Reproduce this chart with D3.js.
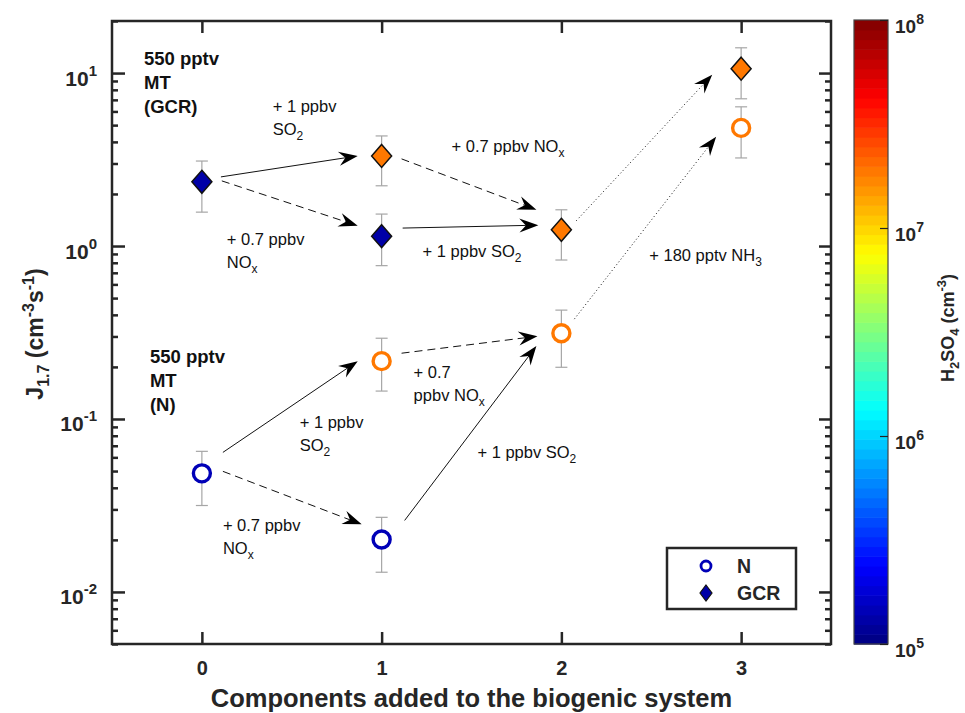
<!DOCTYPE html>
<html>
<head>
<meta charset="utf-8">
<script src="https://cdn.jsdelivr.net/npm/d3@7"></script>
<style>
  html, body { margin: 0; padding: 0; background: #fff; }
  svg { display: block; font-family: "Liberation Sans", Arial, Helvetica, sans-serif; }
</style>
</head>
<body>
<svg id="chart" width="965" height="713"></svg>
<script>
// ---- data -------------------------------------------------------------
// number of components added to the biogenic system for each run
const components = [0, 1, 1, 2, 3];

// J1.7 (cm^-3 s^-1), neutral (N) runs, with error-bar limits
const nRate = [0.0485, 0.216, 0.0201, 0.313, 4.82];
const nLow  = [0.0316, 0.145, 0.0130, 0.199, 3.23];
const nHigh = [0.065, 0.293, 0.027, 0.426, 6.38];

// J1.7 (cm^-3 s^-1), galactic cosmic ray (GCR) runs, with error-bar limits
const gcrRate = [2.35, 3.32, 1.14, 1.24, 10.6];
const gcrLow  = [1.57, 2.23, 0.77, 0.83, 7.1];
const gcrHigh = [3.1, 4.33, 1.53, 1.62, 14.0];

// H2SO4 concentration (cm^-3) for each run, used for marker colour
const nH2SO4   = [1.45e5, 1.85e7, 1.45e5, 1.85e7, 1.9e7];
const gcrH2SO4 = [1.3e5, 1.85e7, 1.3e5, 1.85e7, 1.9e7];

const xTickValues = [0, 1, 2, 3];
const yTickExponents = [-2, -1, 0, 1];
const cbTickExponents = [5, 6, 7, 8];

// arrows between runs (data coordinates: [components, J1.7])
const arrows = [
  { from: [0.106, 2.51],  to: [0.867, 3.32],  style: "solid" },
  { from: [0.111, 2.38],  to: [0.867, 1.31],  style: "dashed" },
  { from: [1.111, 3.19],  to: [1.861, 1.62],  style: "dashed" },
  { from: [1.117, 1.27],  to: [1.872, 1.32],  style: "solid" },
  { from: [2.083, 1.40],  to: [2.839, 9.77],  style: "dotted" },
  { from: [2.072, 0.378], to: [2.861, 4.28],  style: "dotted" },
  { from: [0.117, 0.0641],to: [0.867, 0.216], style: "solid" },
  { from: [0.117, 0.0498],to: [0.889, 0.0246],style: "dashed" },
  { from: [1.111, 0.240], to: [1.867, 0.301], style: "dashed" },
  { from: [1.128, 0.0259],to: [1.861, 0.264], style: "solid" }
];

// text notes, anchored at data coordinates ("_" marks a one-character subscript)
const notes = [
  { x: -0.322, y: 11.2,   bold: true, lines: ["550 pptv", "MT", "(GCR)"] },
  { x: 0.394,  y: 5.97,   lines: ["+ 1 ppbv", "SO_2"] },
  { x: 0.139,  y: 1.01,   lines: ["+ 0.7 ppbv", "NO_x"] },
  { x: 1.389,  y: 3.5,    lines: ["+ 0.7 ppbv NO_x"] },
  { x: 1.228,  y: 0.864,  lines: ["+ 1 ppbv SO_2"] },
  { x: 2.489,  y: 0.819,  lines: ["+ 180 pptv NH_3"] },
  { x: -0.289, y: 0.21,   bold: true, lines: ["550 pptv", "MT", "(N)"] },
  { x: 0.544,  y: 0.0883, lines: ["+ 1 ppbv", "SO_2"] },
  { x: 0.117,  y: 0.0224, lines: ["+ 0.7 ppbv", "NO_x"] },
  { x: 1.178,  y: 0.172,  lines: ["+ 0.7", "ppbv NO_x"] },
  { x: 1.533,  y: 0.0592, lines: ["+ 1 ppbv SO_2"] }
];

// ---- layout -----------------------------------------------------------
const plot = { left: 112, right: 831, top: 21, bottom: 644 };
const cbar = { left: 854, right: 888, top: 20, bottom: 644 };
const axisColor = "#262626";

const svg = d3.select("#chart");

const x = d3.scaleLinear().domain([-0.5, 3.5]).range([plot.left, plot.right]);
const y = d3.scaleLog().domain([0.005, 20]).range([plot.bottom, plot.top]);
const cScale = d3.scaleLog().domain([1e5, 1e8]).range([cbar.bottom, cbar.top]);

// MATLAB-style jet colormap with 64 levels
const NLEV = 64;
function jet(t) {
  const c = v => Math.max(0, Math.min(1, v));
  const r = c(1.5 - Math.abs(4 * t - 3));
  const g = c(1.5 - Math.abs(4 * t - 2));
  const b = c(1.5 - Math.abs(4 * t - 1));
  return d3.rgb(r * 255, g * 255, b * 255).formatHex();
}
const levelColor = i => jet((i + 0.5) / NLEV);
const cLog = d3.scaleLog().domain([1e5, 1e8]).range([0, 1]).clamp(true);
function colorOf(v) {
  const i = Math.min(NLEV - 1, Math.floor(cLog(v) * NLEV));
  return levelColor(i);
}

// ---- axes box & ticks ---------------------------------------------------
const majorY = yTickExponents.map(e => Math.pow(10, e));
const minorY = [];
for (let e = -3; e <= 1; e++) {
  for (let m = 2; m <= 9; m++) {
    const v = m * Math.pow(10, e);
    if (v >= 0.005 && v <= 20) minorY.push(v);
  }
}

function styleTicks(g) {
  g.select(".domain").remove();
  g.selectAll(".tick line").attr("stroke", axisColor).attr("stroke-width", 2.5);
}

// left axis (major + minor), ticks pointing inward
const leftMajor = svg.append("g").attr("transform", `translate(${plot.left},0)`)
  .call(d3.axisLeft(y).tickValues(majorY).tickSizeInner(-13).tickSizeOuter(0).tickFormat(() => ""))
  .call(styleTicks);
svg.append("g").attr("transform", `translate(${plot.left},0)`)
  .call(d3.axisLeft(y).tickValues(minorY).tickSizeInner(-6).tickSizeOuter(0).tickFormat(() => ""))
  .call(styleTicks);

// right axis mirror ticks
svg.append("g").attr("transform", `translate(${plot.right},0)`)
  .call(d3.axisRight(y).tickValues(majorY).tickSizeInner(-12).tickSizeOuter(0).tickFormat(() => ""))
  .call(styleTicks);
svg.append("g").attr("transform", `translate(${plot.right},0)`)
  .call(d3.axisRight(y).tickValues(minorY).tickSizeInner(-6).tickSizeOuter(0).tickFormat(() => ""))
  .call(styleTicks);

// top & bottom x ticks
svg.append("g").attr("transform", `translate(0,${plot.top})`)
  .call(d3.axisTop(x).tickValues(xTickValues).tickSizeInner(-12).tickSizeOuter(0).tickFormat(() => ""))
  .call(styleTicks);
const bottomAxis = svg.append("g").attr("transform", `translate(0,${plot.bottom})`)
  .call(d3.axisBottom(x).tickValues(xTickValues).tickSizeInner(-12).tickSizeOuter(0).tickFormat(d3.format("d")))
  .call(styleTicks);
bottomAxis.selectAll(".tick text")
  .attr("y", 31).attr("dy", null)
  .attr("fill", axisColor)
  .attr("font-family", "'Liberation Sans', Arial, sans-serif")
  .attr("font-size", 20).attr("font-weight", "bold");

// power-of-ten labels on the left axis
leftMajor.selectAll(".tick").each(function (d) {
  const t = d3.select(this).append("text")
    .attr("x", -15).attr("y", 12)
    .attr("text-anchor", "end")
    .attr("fill", axisColor)
    .attr("font-size", 21).attr("font-weight", "bold");
  t.append("tspan").text("10");
  t.append("tspan").attr("dy", -10).attr("font-size", 15).text(String(Math.round(Math.log10(d))));
});

// frame
svg.append("rect")
  .attr("x", plot.left).attr("y", plot.top)
  .attr("width", plot.right - plot.left).attr("height", plot.bottom - plot.top)
  .attr("fill", "none").attr("stroke", axisColor).attr("stroke-width", 2.5);

// axis titles
const yTitle = svg.append("text")
  .attr("transform", `translate(43,334) rotate(-90)`)
  .attr("text-anchor", "middle")
  .attr("fill", axisColor)
  .attr("font-size", 23).attr("font-weight", "bold");
yTitle.append("tspan").text("J");
yTitle.append("tspan").attr("dy", 6).attr("font-size", 16).text("1.7");
yTitle.append("tspan").attr("dy", -6).text(" (cm");
yTitle.append("tspan").attr("dy", -9).attr("font-size", 16).text("-3");
yTitle.append("tspan").attr("dy", 9).text("s");
yTitle.append("tspan").attr("dy", -9).attr("font-size", 16).text("-1");
yTitle.append("tspan").attr("dy", 9).text(")");

svg.append("text")
  .attr("x", (plot.left + plot.right) / 2).attr("y", 707)
  .attr("text-anchor", "middle")
  .attr("fill", axisColor)
  .attr("font-size", 25.5).attr("font-weight", "bold")
  .text("Components added to the biogenic system");

// ---- arrows -----------------------------------------------------------
const dashes = { solid: null, dashed: "8,5", dotted: "1,2.6" };
const headL = 19, headW = 14, headNotch = 12.5;
const arrowG = svg.append("g");
arrows.forEach(a => {
  const x0 = x(a.from[0]), y0 = y(a.from[1]);
  const x1 = x(a.to[0]), y1 = y(a.to[1]);
  const ang = Math.atan2(y1 - y0, x1 - x0);
  const ux = Math.cos(ang), uy = Math.sin(ang);
  arrowG.append("line")
    .attr("x1", x0).attr("y1", y0)
    .attr("x2", x1 - ux * headNotch).attr("y2", y1 - uy * headNotch)
    .attr("stroke", "#111").attr("stroke-width", 1)
    .attr("stroke-dasharray", dashes[a.style]);
  const px = -uy, py = ux;
  const pts = [
    [x1, y1],
    [x1 - ux * headL + px * headW / 2, y1 - uy * headL + py * headW / 2],
    [x1 - ux * headNotch, y1 - uy * headNotch],
    [x1 - ux * headL - px * headW / 2, y1 - uy * headL - py * headW / 2]
  ];
  arrowG.append("path")
    .attr("d", "M" + pts.map(p => p.join(",")).join("L") + "Z")
    .attr("fill", "#000");
});

// ---- error bars & markers ------------------------------------------------
const errColor = "#a6a6a6";
const capHalf = 6;
function errorBars(xs, lo, hi) {
  const g = svg.append("g").attr("stroke", errColor).attr("stroke-width", 1.2);
  xs.forEach((c, i) => {
    const cx = x(c);
    g.append("line").attr("x1", cx).attr("x2", cx).attr("y1", y(lo[i])).attr("y2", y(hi[i]));
    g.append("line").attr("x1", cx - capHalf).attr("x2", cx + capHalf).attr("y1", y(lo[i])).attr("y2", y(lo[i]));
    g.append("line").attr("x1", cx - capHalf).attr("x2", cx + capHalf).attr("y1", y(hi[i])).attr("y2", y(hi[i]));
  });
}
errorBars(components, nLow, nHigh);
errorBars(components, gcrLow, gcrHigh);

const diamond = (w, h) => `M0,${-h}L${w},0L0,${h}L${-w},0Z`;

// neutral runs: open circles
svg.append("g").selectAll("circle")
  .data(components.map((c, i) => ({ c, v: nRate[i], h: nH2SO4[i] })))
  .join("circle")
  .attr("cx", d => x(d.c)).attr("cy", d => y(d.v))
  .attr("r", 8.5)
  .attr("fill", "#fff")
  .attr("stroke", d => colorOf(d.h))
  .attr("stroke-width", 3.4);

// GCR runs: filled diamonds
svg.append("g").selectAll("path")
  .data(components.map((c, i) => ({ c, v: gcrRate[i], h: gcrH2SO4[i] })))
  .join("path")
  .attr("transform", d => `translate(${x(d.c)},${y(d.v)})`)
  .attr("d", diamond(10, 11.5))
  .attr("fill", d => colorOf(d.h))
  .attr("stroke", "#111")
  .attr("stroke-width", 1.5);

// ---- text notes -----------------------------------------------------------
// writes a line of text, lowering each "_x" character as a subscript
function addRich(textSel, str, subSize, shift) {
  const parts = str.split(/_(.)/).map((p, k) => ({ p, sub: k % 2 === 1 })).filter(o => o.p !== "");
  let level = 0;
  parts.forEach(o => {
    const target = o.sub ? shift : 0;
    const ts = textSel.append("tspan").text(o.p);
    if (target !== level) ts.attr("dy", target - level);
    if (o.sub) ts.attr("font-size", subSize);
    level = target;
  });
}
notes.forEach(n => {
  const lh = n.bold ? 24 : 23;
  n.lines.forEach((line, k) => {
    const t = svg.append("text")
      .attr("x", x(n.x)).attr("y", y(n.y) + k * lh)
      .attr("fill", "#111")
      .attr("font-size", n.bold ? 18.5 : 16.5)
      .attr("font-weight", n.bold ? "bold" : "normal");
    addRich(t, line, 12, 5);
  });
});

// ---- legend --------------------------------------------------------------
const leg = svg.append("g");
leg.append("rect").attr("x", 667).attr("y", 548).attr("width", 129).attr("height", 61)
  .attr("fill", "#fff").attr("stroke", axisColor).attr("stroke-width", 2.5);
leg.append("circle").attr("cx", 706).attr("cy", 566).attr("r", 5)
  .attr("fill", "#fff").attr("stroke", colorOf(nH2SO4[0])).attr("stroke-width", 2.8);
leg.append("path").attr("transform", "translate(706,593)").attr("d", diamond(6, 8))
  .attr("fill", colorOf(gcrH2SO4[0])).attr("stroke", "#111").attr("stroke-width", 1.2);
leg.append("text").attr("x", 737).attr("y", 573).attr("fill", axisColor)
  .attr("font-size", 19.5).attr("font-weight", "bold").text("N");
leg.append("text").attr("x", 737).attr("y", 600).attr("fill", axisColor)
  .attr("font-size", 19.5).attr("font-weight", "bold").text("GCR");

// ---- colour bar ------------------------------------------------------------
const cb = svg.append("g");
const bandH = (cbar.bottom - cbar.top) / NLEV;
cb.selectAll("rect.band")
  .data(d3.range(NLEV))
  .join("rect")
  .attr("class", "band")
  .attr("x", cbar.left).attr("width", cbar.right - cbar.left)
  .attr("y", i => cbar.bottom - (i + 1) * bandH)
  .attr("height", bandH + 0.6)
  .attr("fill", i => levelColor(i));
cb.append("rect")
  .attr("x", cbar.left).attr("y", cbar.top)
  .attr("width", cbar.right - cbar.left).attr("height", cbar.bottom - cbar.top)
  .attr("fill", "none").attr("stroke", "#444").attr("stroke-width", 1.2);

const cbTicks = cbTickExponents.map(e => Math.pow(10, e));
const cbAxis = svg.append("g").attr("transform", `translate(${cbar.right},0)`)
  .call(d3.axisRight(cScale).tickValues(cbTicks).tickSizeInner(-8).tickSizeOuter(0).tickFormat(() => ""));
cbAxis.select(".domain").remove();
cbAxis.selectAll(".tick line").attr("stroke", "#222").attr("stroke-width", 1.2);
cbAxis.selectAll(".tick").each(function (d) {
  const t = d3.select(this).append("text")
    .attr("x", 7).attr("y", 12)
    .attr("text-anchor", "start")
    .attr("fill", axisColor)
    .attr("font-size", 19).attr("font-weight", "bold");
  t.append("tspan").text("10");
  t.append("tspan").attr("dy", -9).attr("font-size", 14).text(String(Math.round(Math.log10(d))));
});

const cbTitle = svg.append("text")
  .attr("transform", `translate(954,328) rotate(-90)`)
  .attr("text-anchor", "middle")
  .attr("fill", axisColor)
  .attr("font-size", 18).attr("font-weight", "bold");
cbTitle.append("tspan").text("H");
cbTitle.append("tspan").attr("dy", 5).attr("font-size", 13).text("2");
cbTitle.append("tspan").attr("dy", -5).text("SO");
cbTitle.append("tspan").attr("dy", 5).attr("font-size", 13).text("4");
cbTitle.append("tspan").attr("dy", -5).text(" (cm");
cbTitle.append("tspan").attr("dy", -8).attr("font-size", 13).text("-3");
cbTitle.append("tspan").attr("dy", 8).text(")");
</script>
</body>
</html>
